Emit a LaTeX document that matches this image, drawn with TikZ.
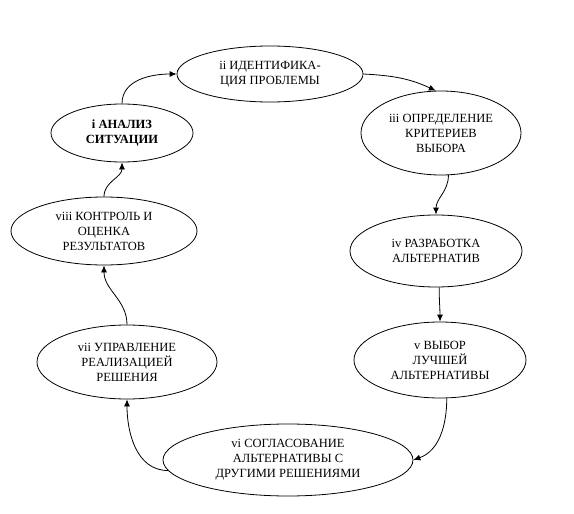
\documentclass[tikz,border=0pt]{standalone}
\usepackage{fontspec}
\setmainfont{Liberation Serif}
\usetikzlibrary{shapes.geometric,arrows.meta}
\begin{document}
\begin{tikzpicture}[x=1pt,y=-1pt,
  st/.style={ellipse,draw,line width=0.8pt,inner sep=0pt,align=center,font=\fontsize{12.5}{15}\selectfont},
  arr/.style={line width=0.8pt,-{Latex[length=7pt,width=6pt]}}]
\useasboundingbox[fill=white] (0,0) rectangle (574,514);
\node[st,minimum width=186,minimum height=56] (ii) at (270,74) {ii ИДЕНТИФИКА-\\ЦИЯ ПРОБЛЕМЫ};
\node[st,minimum width=142,minimum height=58,font=\fontsize{12.5}{15}\selectfont\bfseries] (i) at (122,133) {i АНАЛИЗ\\СИТУАЦИИ};
\node[st,minimum width=160,minimum height=84] (iii) at (441,133) {iii ОПРЕДЕЛЕНИЕ\\КРИТЕРИЕВ\\ВЫБОРА};
\node[st,minimum width=172,minimum height=72] (iv) at (436,251) {iv РАЗРАБОТКА\\АЛЬТЕРНАТИВ};
\node[st,minimum width=186,minimum height=68] (viii) at (104,231) {viii КОНТРОЛЬ И\\ОЦЕНКА\\РЕЗУЛЬТАТОВ};
\node[st,minimum width=180,minimum height=74] (vii) at (127,362) {vii УПРАВЛЕНИЕ\\РЕАЛИЗАЦИЕЙ\\РЕШЕНИЯ};
\node[st,minimum width=172,minimum height=76] (v) at (440,360) {v ВЫБОР\\ЛУЧШЕЙ\\АЛЬТЕРНАТИВЫ};
\node[st,minimum width=250,minimum height=72] (vi) at (288,460) {vi СОГЛАСОВАНИЕ\\АЛЬТЕРНАТИВЫ С\\ДРУГИМИ РЕШЕНИЯМИ};
\draw[arr] (i.north) to[out=90,in=180] (ii.west);
\draw[arr] (ii.east) to[out=-3,in=155] (iii.97);
\draw[arr] (iii.-80) to[out=-90,in=90] (iv.north);
\draw[arr] (iv.-85) to[out=-90,in=90] (v.north);
\draw[arr] (v.-80) to[out=-90,in=20] (vi.east);
\draw[arr] (vi.185) to[out=180,in=-90] (vii.south);
\draw[arr] (vii.north) to[out=90,in=-90] (viii.south);
\draw[arr] (viii.north) to[out=90,in=-90] (i.south);
\end{tikzpicture}
\end{document}
